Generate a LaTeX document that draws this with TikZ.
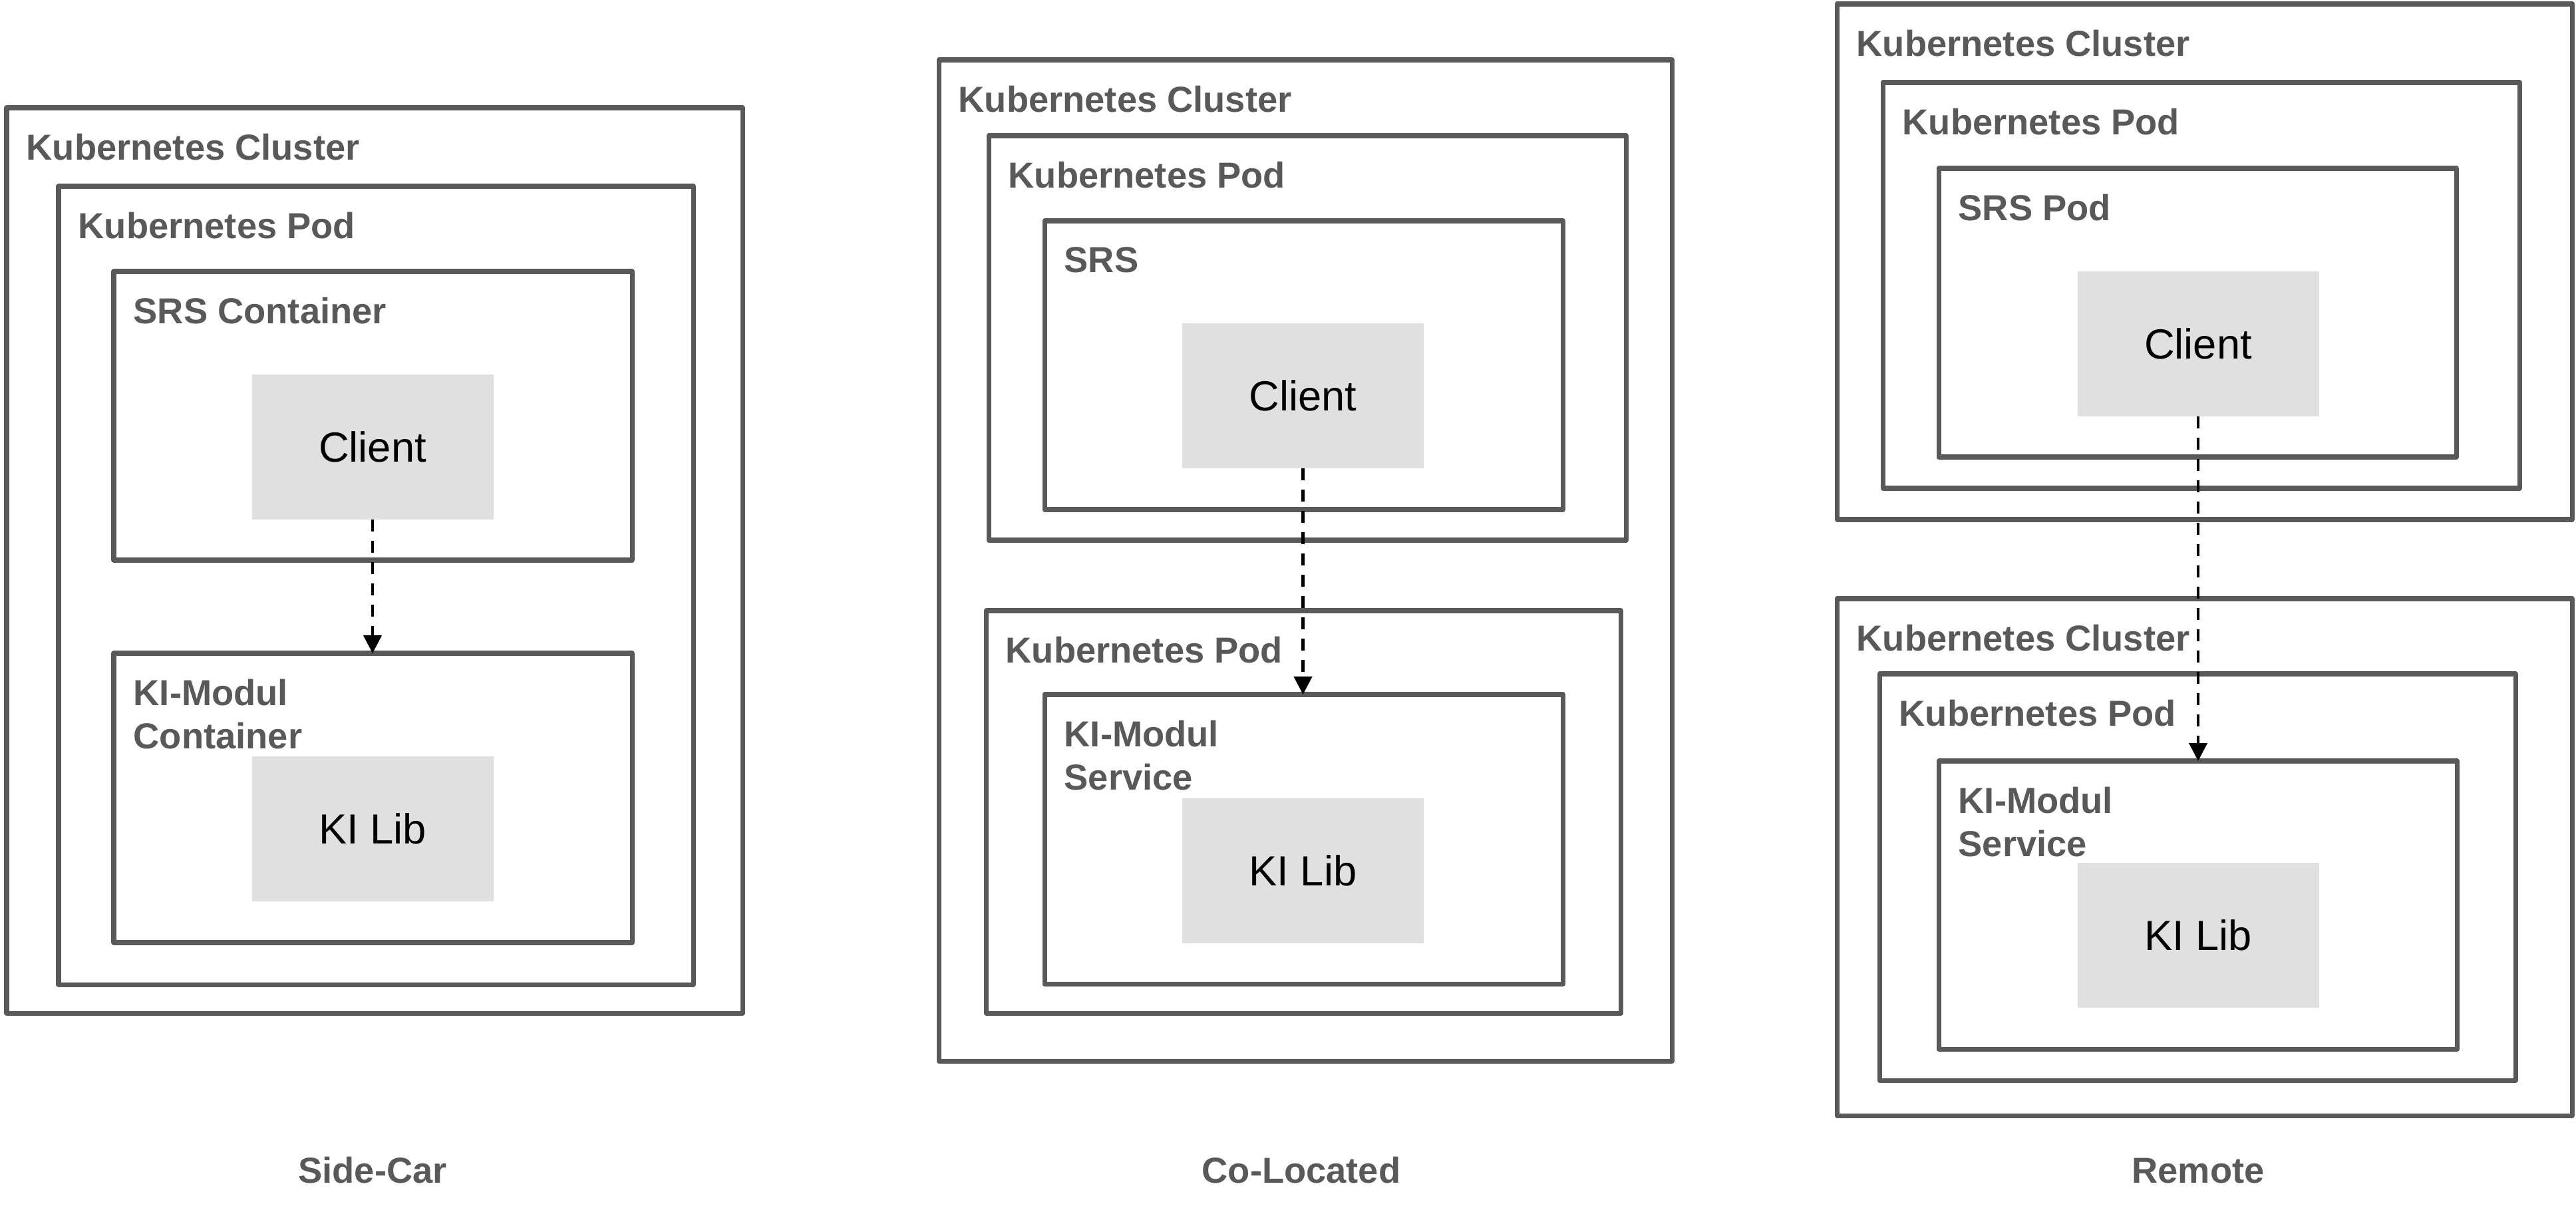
\documentclass[tikz,border=0pt]{standalone}
\usepackage{fontspec}
\setmainfont{Liberation Sans}
\usetikzlibrary{arrows.meta}
\definecolor{framegray}{HTML}{595959}
\definecolor{chipgray}{HTML}{E0E0E0}
\tikzset{
  kbox/.style 2 args={
    draw=framegray, line width=2pt, line join=round,
    inner sep=0pt, outer sep=0pt,
    minimum width=#1cm, minimum height=#2cm
  },
  chip/.style={
    fill=chipgray, inner sep=0pt, outer sep=0pt,
    minimum width=3.63cm, minimum height=2.18cm,
    font=\fontsize{18}{21}\selectfont
  },
  boxtitle/.style={
    anchor=north west, inner sep=0pt, align=left, text=framegray,
    font=\bfseries\fontsize{15.45}{18.5}\selectfont
  },
  caption/.style={
    anchor=base, inner sep=0pt, text=framegray,
    font=\bfseries\fontsize{15.45}{18.5}\selectfont
  },
  link/.style={
    -{Triangle[length=0.27cm,width=0.27cm]},
    line width=1.25pt, dash pattern=on 0.18cm off 0.14cm
  }
}

\begin{document}
\begin{tikzpicture}
\newcommand{\tx}{0.29}
\newcommand{\ty}{0.385}
\useasboundingbox (0,0) rectangle (38.72,-18.28);

\node [kbox={11.06}{13.61}] (sccl) at (5.63,-8.425) {};
\node [kbox={9.54}{12.00}] (scpod) at (5.65,-8.80) {};
\node [kbox={7.79}{4.34}] (scsrs) at (5.605,-6.25) {};
\node [kbox={7.79}{4.35}] (scki) at (5.605,-11.995) {};
\node [chip] (scclient) at (5.60,-6.72) {Client};
\node [chip] (sclib) at (5.60,-12.455) {KI Lib};
\node [boxtitle] (scclt) at ([shift={(\tx,-\ty)}]sccl.north west) {Kubernetes Cluster};
\node [boxtitle] (scpodt) at ([shift={(\tx,-\ty)}]scpod.north west) {Kubernetes Pod};
\node [boxtitle] (scsrst) at ([shift={(\tx,-\ty)}]scsrs.north west) {SRS Container};
\node [boxtitle] (sckit) at ([shift={(\tx,-\ty)}]scki.north west) {KI-Modul\\Container};
\node [caption] (sccap) at (5.60,-17.78) {Side-Car};
\draw [link] (scclient.south) -- (scclient.south |- scki.north);

\node [kbox={11.02}{15.05}] (clcl) at (19.62,-8.425) {};
\node [kbox={9.58}{6.08}] (clpod) at (19.65,-5.08) {};
\node [kbox={7.79}{4.34}] (clsrs) at (19.595,-5.49) {};
\node [kbox={9.54}{6.05}] (clpodb) at (19.59,-12.205) {};
\node [kbox={7.79}{4.35}] (clki) at (19.595,-12.615) {};
\node [chip] (clclient) at (19.585,-5.95) {Client};
\node [chip] (cllib) at (19.585,-13.085) {KI Lib};
\node [boxtitle] (clclt) at ([shift={(\tx,-\ty)}]clcl.north west) {Kubernetes Cluster};
\node [boxtitle] (clpodt) at ([shift={(\tx,-\ty)}]clpod.north west) {Kubernetes Pod};
\node [boxtitle] (clsrst) at ([shift={(\tx,-\ty)}]clsrs.north west) {SRS};
\node [boxtitle] (clpodbt) at ([shift={(\tx,-\ty)}]clpodb.north west) {Kubernetes Pod};
\node [boxtitle] (clkit) at ([shift={(\tx,-\ty)}]clki.north west) {KI-Modul\\Service};
\node [caption] (clcap) at (19.56,-17.78) {Co-Located};
\draw [link] (clclient.south) -- (clclient.south |- clki.north);

\node [kbox={11.05}{7.75}] (rmcl) at (33.135,-3.935) {};
\node [kbox={9.57}{6.10}] (rmpod) at (33.085,-4.29) {};
\node [kbox={7.78}{4.34}] (rmsrs) at (33.03,-4.70) {};
\node [kbox={11.05}{7.77}] (rmclb) at (33.135,-12.885) {};
\node [kbox={9.56}{6.11}] (rmpodb) at (33.03,-13.185) {};
\node [kbox={7.79}{4.33}] (rmki) at (33.035,-13.605) {};
\node [chip] (rmclient) at (33.04,-5.17) {Client};
\node [chip] (rmlib) at (33.04,-14.06) {KI Lib};
\node [boxtitle] (rmclt) at ([shift={(\tx,-\ty)}]rmcl.north west) {Kubernetes Cluster};
\node [boxtitle] (rmpodt) at ([shift={(\tx,-\ty)}]rmpod.north west) {Kubernetes Pod};
\node [boxtitle] (rmsrst) at ([shift={(\tx,-\ty)}]rmsrs.north west) {SRS Pod};
\node [boxtitle] (rmclbt) at ([shift={(\tx,-\ty)}]rmclb.north west) {Kubernetes Cluster};
\node [boxtitle] (rmpodbt) at ([shift={(\tx,-\ty)}]rmpodb.north west) {Kubernetes Pod};
\node [boxtitle] (rmkit) at ([shift={(\tx,-\ty)}]rmki.north west) {KI-Modul\\Service};
\node [caption] (rmcap) at (33.04,-17.78) {Remote};
\draw [link] (rmclient.south) -- (rmclient.south |- rmki.north);
\end{tikzpicture}
\end{document}
